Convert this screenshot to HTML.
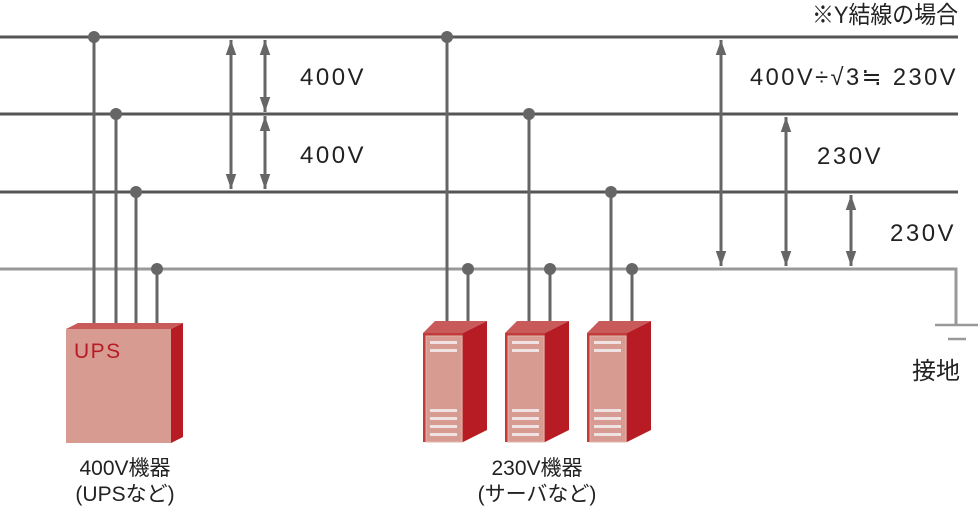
<!DOCTYPE html>
<html><head><meta charset="utf-8"><style>
html,body{margin:0;padding:0;background:#fff}
svg{display:block}
text{font-family:"Liberation Sans","Noto Sans CJK JP",sans-serif;fill:#222}
</style></head><body>
<svg width="980" height="511" viewBox="0 0 980 511" xmlns="http://www.w3.org/2000/svg">
<defs>
<marker id="ah" viewBox="0 0 10 10" refX="10" refY="5" markerWidth="5" markerHeight="5" orient="auto-start-reverse" markerUnits="strokeWidth"><path d="M0,1.5 L10,5 L0,8.5 z" fill="#666"/></marker>
<g id="srv">
<polygon points="0,12 12,0 64,0 40,12" fill="#c95a5a"/>
<polygon points="40,12 64,0 64,109 40,121" fill="#b71c24"/>
<rect x="0" y="12" width="40" height="109" fill="#c23a3a"/>
<rect x="3" y="15" width="36" height="106" fill="#d79b92" stroke="#e3b5ad" stroke-width="1"/>
<g fill="#f0e2e2"><rect x="7" y="20" width="27" height="3"/><rect x="7" y="28" width="27" height="3"/>
<rect x="7" y="88" width="27" height="3"/><rect x="7" y="96" width="27" height="3"/><rect x="7" y="104" width="27" height="3"/><rect x="7" y="112" width="27" height="3"/></g>
</g>
</defs>
<g stroke="#555" stroke-width="3">
<line x1="0" y1="37" x2="958" y2="37"/>
<line x1="0" y1="114" x2="958" y2="114"/>
<line x1="0" y1="192" x2="958" y2="192"/>
</g>
<polyline points="0,269 956,269 956,325" fill="none" stroke="#999" stroke-width="3"/>
<line x1="935" y1="325" x2="978" y2="325" stroke="#999" stroke-width="2.5"/>
<line x1="948" y1="339" x2="966" y2="339" stroke="#999" stroke-width="2.5"/>
<g stroke="#666" stroke-width="3">
<line x1="94" y1="37" x2="94" y2="323"/><line x1="116" y1="114" x2="116" y2="323"/>
<line x1="136" y1="192" x2="136" y2="323"/><line x1="157" y1="269" x2="157" y2="323"/>
<line x1="447" y1="37" x2="447" y2="323"/><line x1="468" y1="269" x2="468" y2="323"/>
<line x1="529" y1="114" x2="529" y2="323"/><line x1="550" y1="269" x2="550" y2="323"/>
<line x1="611" y1="192" x2="611" y2="323"/><line x1="632" y1="269" x2="632" y2="323"/>
</g>
<g fill="#666">
<circle cx="94" cy="37" r="6"/><circle cx="116" cy="114" r="6"/><circle cx="136" cy="192" r="6"/><circle cx="157" cy="269" r="6"/>
<circle cx="447" cy="37" r="6"/><circle cx="529" cy="114" r="6"/><circle cx="611" cy="192" r="6"/>
<circle cx="468" cy="269" r="6"/><circle cx="550" cy="269" r="6"/><circle cx="632" cy="269" r="6"/>
</g>
<g stroke="#666" stroke-width="3" marker-start="url(#ah)" marker-end="url(#ah)">
<line x1="231" y1="40" x2="231" y2="189"/>
<line x1="265" y1="40" x2="265" y2="112"/>
<line x1="265" y1="116" x2="265" y2="189"/>
<line x1="721" y1="40" x2="721" y2="266"/>
<line x1="786" y1="117" x2="786" y2="266"/>
<line x1="851" y1="195" x2="851" y2="266"/>
</g>
<g font-size="24" letter-spacing="2.5">
<text x="300" y="85">400V</text>
<text x="300" y="163">400V</text>
<text x="750" y="85" textLength="208" lengthAdjust="spacingAndGlyphs">400V÷√3≒ 230V</text>
<text x="817" y="164">230V</text>
<text x="890" y="241">230V</text>
<text x="812" y="23" textLength="146" lengthAdjust="spacingAndGlyphs" letter-spacing="0">※Y結線の場合</text>
<text x="912" y="379" letter-spacing="0">接地</text>
</g>
<polygon points="66,329 78,323 183,323 171,329" fill="#c95a5a"/>
<polygon points="171,329 183,323 183,437 171,443" fill="#b71c24"/>
<rect x="66" y="329" width="105" height="114" fill="#d79b92"/>
<text x="74" y="358" font-size="21" letter-spacing="1.5" style="fill:#b71c24">UPS</text>
<use href="#srv" x="423" y="321"/>
<use href="#srv" x="505" y="321"/>
<use href="#srv" x="587" y="321"/>
<g font-size="21" text-anchor="middle">
<text x="125" y="475">400V機器</text>
<text x="125" y="501">(UPSなど)</text>
<text x="537" y="475">230V機器</text>
<text x="537" y="501">(サーバなど)</text>
</g>
</svg>
</body></html>
